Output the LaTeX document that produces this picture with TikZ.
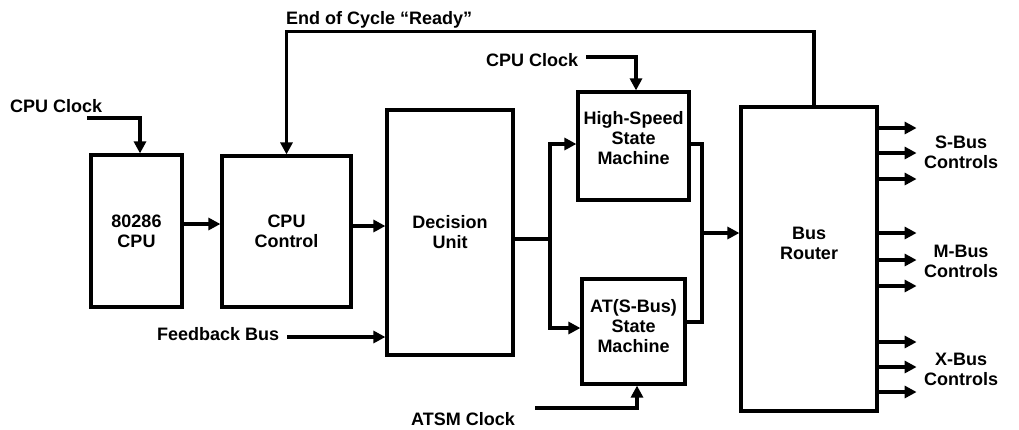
\documentclass[tikz,border=0pt]{standalone}
\usepackage{fontspec}
\setmainfont{Liberation Sans}
\usetikzlibrary{arrows.meta}
\begin{document}
\begin{tikzpicture}[x=1pt,y=-1pt,
  font=\bfseries\fontsize{18}{20}\selectfont,
  box/.style={draw,line width=3.2pt,inner sep=0pt,align=center},
  txt/.style={inner sep=0pt,align=center},
  wire/.style={line width=3.2pt},
  arr/.style={line width=3.2pt,-{Triangle[length=12pt,width=12pt]}}]
\useasboundingbox (0,0) rectangle (1019,429);
% boxes
\node[box,minimum width=91pt,minimum height=152pt] (cpu) at (136.5,231) {80286\\CPU};
\node[box,minimum width=129pt,minimum height=151pt] (ctrl) at (286.5,231.5) {CPU\\Control};
\node[box,minimum width=126pt,minimum height=245pt] (dec) at (450,232.5) {Decision\\Unit};
\node[box,minimum width=111pt,minimum height=108pt,
  label={[txt,yshift=8pt]center:{High-Speed\\State\\Machine}}] (hs) at (633.5,146) {};
\node[box,minimum width=103pt,minimum height=105pt,
  label={[txt,yshift=5.5pt]center:{AT(S-Bus)\\State\\Machine}}] (at) at (633.5,331.5) {};
\node[box,minimum width=136pt,minimum height=304pt,
  label={[txt,yshift=16pt]center:{Bus\\Router}}] (br) at (809,259) {};
% labels
\node[txt,anchor=west] (clk1) at (10,106) {CPU Clock};
\node[txt,anchor=west] (eoc) at (286,20) {End of Cycle “Ready”};
\node[txt,anchor=west] (clk2) at (486,60) {CPU Clock};
\node[txt,anchor=west] (fb) at (157,334) {Feedback Bus};
\node[txt,anchor=west] (atclk) at (411,419) {ATSM Clock};
\node[txt] (sbus) at (961,152) {S-Bus\\Controls};
\node[txt] (mbus) at (961,261) {M-Bus\\Controls};
\node[txt] (xbus) at (961,369) {X-Bus\\Controls};
% coordinates
\coordinate (c1) at (87,118);
\coordinate (c2) at (586,57);
\coordinate (c3) at (287,337);
\coordinate (c4) at (535,408);
\coordinate (sp) at (550,239);
\coordinate (mg) at (702,233);
% connectors
\draw[arr] (c1) -| ([xshift=3.5pt]cpu.north);
\draw[arr] ([xshift=5pt]br.north) -- ++(0,-74) -| (ctrl.north);
\draw[arr] ([yshift=7pt]cpu.east) -- ([yshift=7pt]cpu.east -| ctrl.west);
\draw[arr] ([yshift=5.5pt]ctrl.east) -- ([yshift=5.5pt]ctrl.east -| dec.west);
\draw[arr] (c3) -- (c3 -| dec.west);
\draw[wire] ([yshift=-6.5pt]dec.east) -- (sp);
\draw[arr] (sp) |- ([yshift=2pt]hs.west);
\draw[arr] (sp) |- ([yshift=3.5pt]at.west);
\draw[wire] ([yshift=2pt]hs.east) -| (mg);
\draw[wire] ([yshift=9.5pt]at.east) -| (mg);
\draw[arr] (mg) -- (mg -| br.west);
\draw[arr] (c2) -| ([xshift=2.5pt]hs.north);
\draw[arr] (c4) -| ([xshift=3.5pt]at.south);
\foreach \y in {128,153,179,233,260,286,342,367,392}
  \draw[arr] ([yshift={259-\y}]br.east) -- ++(38,0);
\end{tikzpicture}
\end{document}
